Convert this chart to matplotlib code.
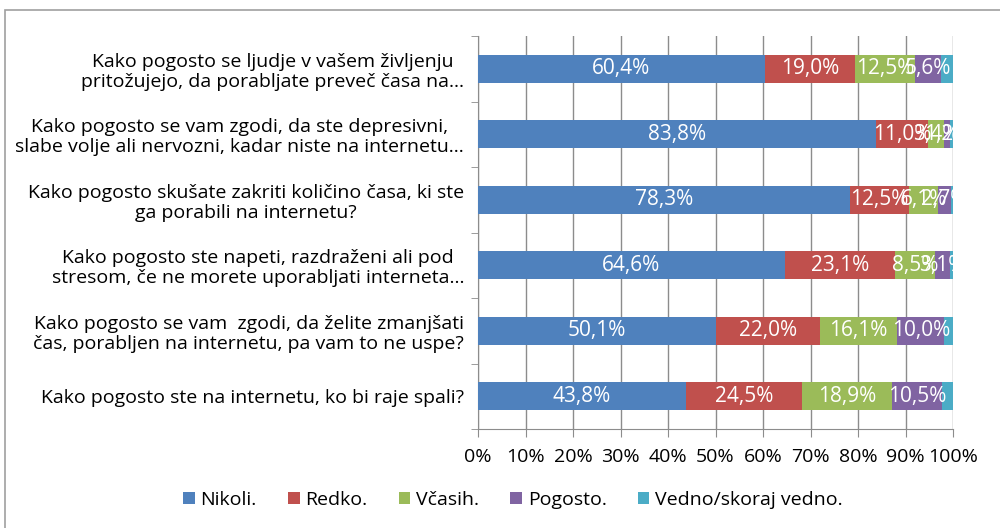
import numpy as np
import matplotlib.pyplot as plt
from matplotlib.patches import Rectangle

#======================================================================#
## data
questions = [
    "Kako pogosto se ljudje v vašem življenju\npritožujejo, da porabljate preveč časa na…",
    "Kako pogosto se vam zgodi, da ste depresivni,\nslabe volje ali nervozni, kadar niste na internetu…",
    "Kako pogosto skušate zakriti količino časa, ki ste\nga porabili na internetu?",
    "Kako pogosto ste napeti, razdraženi ali pod\nstresom, če ne morete uporabljati interneta…",
    "Kako pogosto se vam  zgodi, da želite zmanjšati\nčas, porabljen na internetu, pa vam to ne uspe?",
    "Kako pogosto ste na internetu, ko bi raje spali?",
]
series_names = ["Nikoli.", "Redko.", "Včasih.", "Pogosto.", "Vedno/skoraj vedno."]
nikoli = [60.4, 83.8, 78.3, 64.6, 50.1, 43.8]
redko = [19.0, 11.0, 12.5, 23.1, 22.0, 24.5]
vcasih = [12.5, 3.4, 6.1, 8.5, 16.1, 18.9]
pogosto = [5.6, 1.2, 2.7, 3.1, 10.0, 10.5]
vedno = [2.5, 0.6, 0.4, 0.7, 1.8, 2.3]
x_ticks = [0, 10, 20, 30, 40, 50, 60, 70, 80, 90, 100]

colors = ['#4F81BD', '#C0504D', '#9BBB59', '#8064A2', '#4BACC6']
font = "Open Sans"
fs = 14
fs_lab = 15
grid_c = '#8C8C8C'

#======================================================================#
def main():
    fig = plt.figure(figsize=(10, 5.28), dpi=100)
    ax = fig.add_axes([0.478, 0.1875, 0.475, 0.7443])

    data = [nikoli, redko, vcasih, pogosto, vedno]
    y = np.arange(len(questions))
    left = np.zeros(len(questions))
    for i, vals in enumerate(data):
        vals = np.array(vals)
        ax.barh(y, vals, left=left, height=0.43, color=colors[i],
                label=series_names[i], zorder=3)
        if i < 4:
            for yy, l, v in zip(y, left, vals):
                ax.text(l + v / 2, yy, ("%.1f%%" % v).replace('.', ','),
                        ha='center', va='center', color='white',
                        family=font, fontsize=fs_lab, zorder=4)
        left += vals

    ax.set_xlim(0, 100)
    ax.set_ylim(len(questions) - 0.5, -0.5)
    ax.set_xticks(x_ticks)
    ax.set_xticklabels(["%d%%" % t for t in x_ticks], family=font, fontsize=fs)
    ax.set_yticks(y)
    ax.set_yticklabels(questions, family=font, fontsize=fs, multialignment='center',
                       linespacing=1.15)
    ax.set_yticks(np.arange(-0.5, len(questions), 1.0), minor=True)
    ax.tick_params(axis='y', which='major', length=0, pad=10)
    ax.tick_params(axis='y', which='minor', length=5, color=grid_c)
    ax.tick_params(axis='x', length=6, color=grid_c, pad=8)

    ax.grid(axis='x', color=grid_c, linewidth=1.0, zorder=0)
    for s in ['top', 'right']:
        ax.spines[s].set_visible(False)
    for s in ['left', 'bottom']:
        ax.spines[s].set_color(grid_c)

    fig.legend(loc='center', bbox_to_anchor=(0.513, 0.053), ncol=5, frameon=False,
               prop={'family': font, 'size': fs}, handlelength=0.6,
               handleheight=0.6, handletextpad=0.3, columnspacing=1.6)

    fig.patches.append(Rectangle((0.005, -0.1), 1.2, 1.081, transform=fig.transFigure,
                                 fill=False, edgecolor='#A0A0A0', linewidth=1.2))
    fig.savefig("out.png", dpi=100)

if __name__ == '__main__':
    main()
